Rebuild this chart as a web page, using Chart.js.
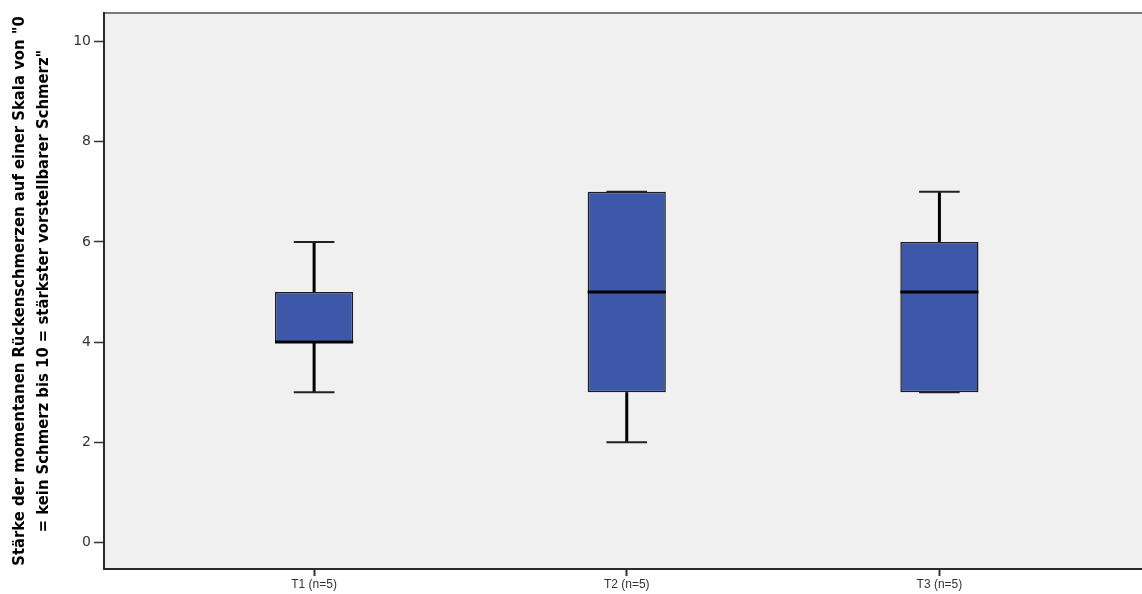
<!DOCTYPE html>
<html>
<head>
<meta charset="utf-8">
<script src="https://cdn.jsdelivr.net/npm/chart.js@4.4.1/dist/chart.umd.min.js"></script>
<style>
  html, body { margin: 0; padding: 0; background: #ffffff; }
  #wrap { width: 1142px; height: 594px; position: relative; }
</style>
</head>
<body>
<div id="wrap"><canvas id="c" width="1142" height="594"></canvas></div>
<script>
// ---- data ----
const categories = ['T1 (n=5)', 'T2 (n=5)', 'T3 (n=5)'];
const whiskerLow = [3, 2, 3];
const q1 = [4, 3, 3];
const median = [4, 5, 5];
const q3 = [5, 7, 6];
const whiskerHigh = [6, 7, 7];
const yTicks = [0, 2, 4, 6, 8, 10];
const yTitle = [
  'Stärke der momentanen Rückenschmerzen auf einer Skala von "0',
  '= kein Schmerz bis 10 = stärkster vorstellbarer Schmerz"'
];

const boxData = categories.map((c, i) => ({ x: i, y: [q1[i], q3[i]] }));

const boxPlugin = {
  id: 'boxPlugin',
  beforeDraw(chart) {
    const { ctx, chartArea: a } = chart;
    ctx.save();
    ctx.fillStyle = '#f0f0f0';
    ctx.fillRect(a.left, a.top, a.right - a.left, a.bottom - a.top);
    ctx.strokeStyle = '#7a7a7a';
    ctx.lineWidth = 2;
    ctx.beginPath();
    ctx.moveTo(a.left, a.top);
    ctx.lineTo(a.right, a.top);
    ctx.stroke();
    ctx.restore();
  },
  afterDatasetsDraw(chart) {
    const { ctx } = chart;
    const xs = chart.scales.x, ys = chart.scales.y;
    const meta = chart.getDatasetMeta(0);
    ctx.save();
    categories.forEach((c, i) => {
      const cx = xs.getPixelForValue(i);
      const bw = meta.data[i].width;
      const cap = bw * 0.52;
      const yl = ys.getPixelForValue(whiskerLow[i]);
      const yq1 = ys.getPixelForValue(q1[i]);
      const yq3 = ys.getPixelForValue(q3[i]);
      const yh = ys.getPixelForValue(whiskerHigh[i]);
      ctx.strokeStyle = '#000000';
      ctx.lineWidth = 3;
      ctx.beginPath();
      if (yl !== yq1) { ctx.moveTo(cx, yq1); ctx.lineTo(cx, yl); }
      if (yh !== yq3) { ctx.moveTo(cx, yq3); ctx.lineTo(cx, yh); }
      ctx.stroke();
      ctx.strokeStyle = '#222222';
      ctx.lineWidth = 2;
      ctx.beginPath();
      ctx.moveTo(cx - cap / 2, yl); ctx.lineTo(cx + cap / 2, yl);
      ctx.moveTo(cx - cap / 2, yh); ctx.lineTo(cx + cap / 2, yh);
      ctx.stroke();
      const ym = ys.getPixelForValue(median[i]);
      ctx.strokeStyle = '#000000';
      ctx.lineWidth = 3;
      ctx.beginPath();
      ctx.moveTo(cx - bw / 2, ym); ctx.lineTo(cx + bw / 2, ym);
      ctx.stroke();
    });
    ctx.restore();
  }
};

new Chart(document.getElementById('c'), {
  type: 'bar',
  data: {
    datasets: [{
      data: boxData,
      backgroundColor: '#3d57a9',
      borderColor: '#1c1c1c',
      borderWidth: 1.5,
      borderSkipped: false,
      barPercentage: 1,
      categoryPercentage: 0.25
    }]
  },
  options: {
    responsive: false,
    animation: false,
    events: [],
    layout: { padding: { top: 13, right: 0, left: 0, bottom: 0 } },
    plugins: { legend: { display: false }, tooltip: { enabled: false } },
    scales: {
      x: {
        type: 'linear',
        offset: false,
        min: -0.672,
        max: 2.648,
        afterFit(s) { s.height = 25; },
        afterBuildTicks(s) { s.ticks = categories.map((c, i) => ({ value: i })); },
        grid: { display: true, offset: false, drawOnChartArea: false, drawTicks: true, tickLength: 7, tickColor: '#333333', tickWidth: 2 },
        border: { display: true, color: '#2a2a2a', width: 2 },
        ticks: {
          autoSkip: false,
          maxRotation: 0,
          padding: 1,
          color: '#333333',
          font: { family: 'Liberation Sans, Arial, sans-serif', size: 12 },
          callback: (v) => categories[v]
        }
      },
      y: {
        min: -0.53,
        max: 10.57,
        afterFit(s) { s.width = 104; },
        afterBuildTicks(s) { s.ticks = yTicks.map(v => ({ value: v })); },
        grid: { display: true, drawOnChartArea: false, drawTicks: true, tickLength: 10, tickColor: '#333333', tickWidth: 1.5 },
        border: { display: true, color: '#2a2a2a', width: 2 },
        ticks: {
          padding: 3,
          color: '#333333',
          font: { family: 'DejaVu Sans, sans-serif', size: 14 }
        },
        title: {
          display: true,
          text: yTitle,
          color: '#000000',
          padding: { top: 8, bottom: 0 },
          font: { family: 'DejaVu Sans Condensed, sans-serif', size: 16.5, weight: 'bold', lineHeight: '24px' }
        }
      }
    }
  },
  plugins: [boxPlugin]
});
</script>
</body>
</html>
